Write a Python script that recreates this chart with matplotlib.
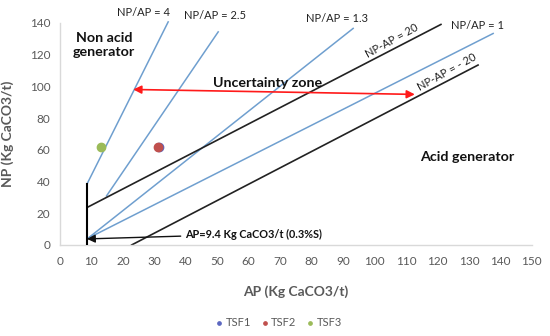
import matplotlib
matplotlib.use('Agg')
import matplotlib.pyplot as plt

plt.rcParams['font.family'] = ['Lato', 'DejaVu Sans']

# NP/AP ratio lines (AP start/end, NP start/end)
ratio_labels = ["NP/AP = 4", "NP/AP = 2.5", "NP/AP = 1.3", "NP/AP = 1"]
ratio_ap = [[8.7, 34.4], [14.8, 50.3], [8.9, 93.2], [8.9, 137.7]]
ratio_np = [[38.8, 140.6], [30.9, 134.3], [4.2, 136.5], [4.2, 133.3]]

# NP-AP difference lines
diff_labels = ["NP-AP = 20", "NP-AP = - 20"]
diff_ap = [[8.7, 121.1], [22.8, 132.9]]
diff_np = [[23.7, 139.0], [0.0, 113.4]]

# AP threshold (9.4 Kg CaCO3/t)
thr_ap = [8.5, 8.5]
thr_np = [0.0, 38.2]

# samples
samples = ["TSF1", "TSF2", "TSF3"]
sample_ap = [31.5, 31.2, 13.2]
sample_np = [61.6, 61.6, 61.6]
sample_colors = ["#5b67c0", "#c0504d", "#9bbb59"]

x_ticks = list(range(0, 151, 10))
y_ticks = list(range(0, 141, 20))

fig = plt.figure(figsize=(5.5, 3.36), dpi=100)
ax = fig.add_axes([0.109, 0.271, 0.858, 0.661])

blue = "#6f9fcf"
for a, n in zip(ratio_ap, ratio_np):
    ax.plot(a, n, color=blue, lw=1.1, clip_on=False, zorder=2)
for a, n in zip(diff_ap, diff_np):
    ax.plot(a, n, color="#222222", lw=1.2, clip_on=False, zorder=2)
ax.plot(thr_ap, thr_np, color="black", lw=1.5, zorder=3)

for s, a, n, c in zip(samples, sample_ap, sample_np, sample_colors):
    ax.scatter(a, n, s=36, color=c, label=s, zorder=4)

lab_kw = dict(fontsize=8, color="#222222", ha="center", va="center", clip_on=False)
ax.text(26.4, 146.3, ratio_labels[0], **lab_kw)
ax.text(49.4, 144.8, ratio_labels[1], **lab_kw)
ax.text(88.2, 142.8, ratio_labels[2], **lab_kw)
ax.text(132.8, 138.5, ratio_labels[3], **lab_kw)
ax.text(105.5, 128.5, diff_labels[0], rotation=29, **lab_kw)
ax.text(122.9, 109.1, diff_labels[1], rotation=29, **lab_kw)

bold_kw = dict(fontsize=10.3, fontweight="bold", color="#111111", ha="center", va="center")
ax.text(14.0, 125.9, "Non acid\ngenerator", linespacing=1.25, **bold_kw)
ax.text(66.1, 102.0, "Uncertainty zone", **bold_kw)
ax.text(129.3, 55.4, "Acid generator", **bold_kw)

# uncertainty zone arrow
ax.annotate("", xy=(23.3, 98.0), xytext=(112.8, 94.9),
            arrowprops=dict(arrowstyle="<|-|>", color="#ff1a1a", lw=1.2,
                            mutation_scale=12, shrinkA=0, shrinkB=0))

ax.annotate("AP=9.4 Kg CaCO3/t (0.3%S)", xy=(8.6, 3.8), xytext=(39.7, 6.9),
            fontsize=7.8, fontweight="bold", color="#111111", ha="left", va="center",
            arrowprops=dict(arrowstyle="-|>", color="#111111", lw=1.0,
                            mutation_scale=12, shrinkA=1, shrinkB=0))

ax.set_xlim(0, 150)
ax.set_ylim(0, 140)
ax.set_xticks(x_ticks)
ax.set_yticks(y_ticks)
ax.tick_params(length=0, labelsize=8.5, labelcolor="#595959")
ax.tick_params(axis="x", pad=8)
ax.tick_params(axis="y", pad=7)
for side in ["top", "right"]:
    ax.spines[side].set_visible(False)
for side in ["left", "bottom"]:
    ax.spines[side].set_color("#d9d9d9")
    ax.spines[side].set_linewidth(1.0)

ax.set_xlabel("AP (Kg CaCO3/t)", fontsize=10, fontweight="bold", color="#595959")
ax.set_ylabel("NP (Kg CaCO3/t)", fontsize=10, fontweight="bold", color="#595959")
ax.xaxis.set_label_coords(0.5, -0.184)
ax.yaxis.set_label_coords(-0.097, 0.5)

ax.legend(loc="center", bbox_to_anchor=(0.504, 0.039), bbox_transform=fig.transFigure,
          ncol=3, frameon=False, fontsize=8, markerscale=0.4, handletextpad=0.0,
          handlelength=1.2, columnspacing=0.6, labelcolor="#595959")

fig.savefig("out.png", dpi=100)
